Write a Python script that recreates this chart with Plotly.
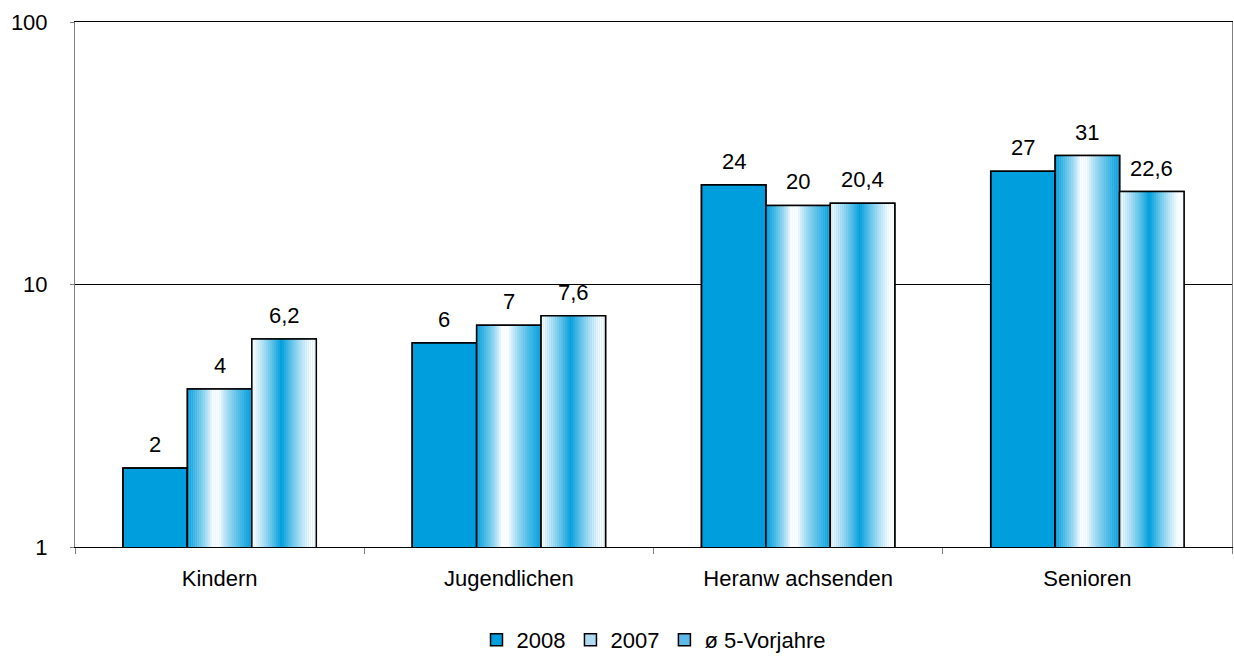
import numpy as np
import plotly.graph_objects as go

categories = ["Kindern", "Jugendlichen", "Heranw achsenden", "Senioren"]
series_names = ["2008", "2007", "ø 5-Vorjahre"]
values_2008 = [2, 6, 24, 27]
values_2007 = [4, 7, 20, 31]
values_avg = [6.2, 7.6, 20.4, 22.6]
series_values = [values_2008, values_2007, values_avg]

FONT = "Liberation Sans, Arial, sans-serif"
FONT_SIZE = 22
BLUE = (0, 158, 220)
WHITE = (250, 253, 255)
BAR_W = 0.2228
N_SLICES = 32
x_pos = np.arange(len(categories))


def mix(t):
    t = min(1.0, max(0.0, t))
    r, g, b = (int(round(WHITE[i] + (BLUE[i] - WHITE[i]) * t)) for i in range(3))
    return f"rgb({r},{g},{b})"


def edge_profile(u):
    # blue at both edges, white in the middle
    left = max(0.0, 1 - u / 0.38)
    right = max(0.0, (u - 0.50) / 0.50)
    return max(left, right) ** 0.75


def centre_profile(u):
    # white at both edges, blue band slightly left of centre
    peak = 0.46
    if u < peak:
        d = (peak - u) / peak
    else:
        d = (u - peak) / 0.46
    return max(0.0, 1 - d) ** 1.2


profiles = [None, edge_profile, centre_profile]
legend_fill = ["rgb(0,158,220)", "rgb(175,218,242)", "rgb(95,185,232)"]

fig = go.Figure()

for j, (name, vals) in enumerate(zip(series_names, series_values)):
    offset = -1.5 * BAR_W + j * BAR_W
    # base bar, also used as the legend entry
    fig.add_trace(go.Bar(
        x=x_pos, y=vals, name=name, width=BAR_W, offset=offset,
        marker=dict(color=legend_fill[j], line=dict(color="black", width=1.5)),
        showlegend=True, hoverinfo="skip",
    ))
    # shaded vertical slices
    if profiles[j] is not None:
        sw = BAR_W / N_SLICES
        for k in range(N_SLICES):
            u = (k + 0.5) / N_SLICES
            fig.add_trace(go.Bar(
                x=x_pos, y=vals, width=sw * 1.08, offset=offset + k * sw,
                marker=dict(color=mix(profiles[j](u)), line=dict(width=0)),
                showlegend=False, hoverinfo="skip",
            ))
    # outline on top
    fig.add_trace(go.Bar(
        x=x_pos, y=vals, width=BAR_W, offset=offset,
        marker=dict(color="rgba(0,0,0,0)", line=dict(color="black", width=1.5)),
        showlegend=False, hoverinfo="skip",
    ))
    for i, v in enumerate(vals):
        label = f"{v:g}".replace(".", ",")
        fig.add_annotation(
            x=x_pos[i] + offset + BAR_W / 2, y=np.log10(v), xref="x", yref="y",
            text=label, showarrow=False, yanchor="bottom", yshift=9,
            font=dict(family=FONT, size=FONT_SIZE, color="black"),
        )

fig.update_layout(
    barmode="overlay",
    width=1234, height=657,
    margin=dict(l=75, r=2, t=22, b=110, autoexpand=False),
    paper_bgcolor="white", plot_bgcolor="white",
    font=dict(family=FONT, size=FONT_SIZE, color="black"),
    legend=dict(
        orientation="h", x=0.5, xanchor="center", y=-0.137, yanchor="top",
        font=dict(family=FONT, size=FONT_SIZE), tracegroupgap=0,
    ),
    showlegend=True,
)

fig.update_xaxes(
    range=[-0.5, len(categories) - 0.5],
    tickvals=list(x_pos), ticktext=categories, ticks="",
    showgrid=False, zeroline=False,
    showline=True, linecolor="black", linewidth=1, mirror=True,
    ticklabelstandoff=12,
    minor=dict(tickvals=[i - 0.5 for i in range(len(categories) + 1)],
               ticks="outside", ticklen=6, tickcolor="#808080", showgrid=False),
)

fig.update_yaxes(
    type="log", range=[0, 2],
    tickvals=[1, 10, 100], ticktext=["1", "10", "100"],
    showgrid=True, gridcolor="black", gridwidth=1,
    showline=True, linecolor="#808080", linewidth=1, mirror=True,
    ticks="outside", ticklen=4, tickcolor="#808080",
    ticklabelstandoff=18,
)

fig.write_html("out.html")
